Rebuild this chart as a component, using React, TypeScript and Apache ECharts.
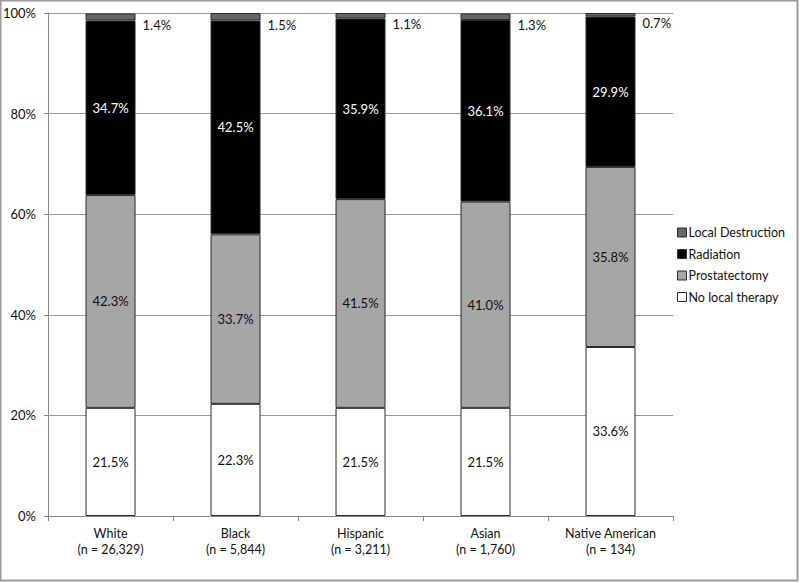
import React, { useEffect, useRef } from "react";
import * as echarts from "echarts";

const categories = [
  "White\n(n = 26,329)",
  "Black\n(n = 5,844)",
  "Hispanic\n(n = 3,211)",
  "Asian\n(n = 1,760)",
  "Native American\n(n = 134)",
];
const noLocalTherapy = [21.5, 22.3, 21.5, 21.5, 33.6];
const prostatectomy = [42.3, 33.7, 41.5, 41.0, 35.8];
const radiation = [34.7, 42.5, 35.9, 36.1, 29.9];
const localDestruction = [1.4, 1.5, 1.1, 1.3, 0.7];
const yTicks = [0, 20, 40, 60, 80, 100];

const FONT = "Lato";

export default function App() {
  const ref = useRef<HTMLDivElement>(null);
  useEffect(() => {
    if (!ref.current) return;
    const chart = echarts.init(ref.current, undefined, { renderer: "svg" });
    const fmt = (p: any) => Number(p.value).toFixed(1) + "%";
    const baseSeries = (name: string, data: number[], color: string, textColor: string) => ({
      name,
      type: "bar",
      stack: "total",
      data,
      barWidth: "40%",
      itemStyle: { color, borderColor: "#2a2a2a", borderWidth: 1 },
      label: {
        show: true,
        position: "inside",
        formatter: fmt,
        color: textColor,
        fontFamily: FONT,
        fontSize: 13,
      },
    });
    chart.setOption({
      animation: false,
      backgroundColor: "#ffffff",
      textStyle: { fontFamily: FONT },
      grid: { left: 46, right: 127, top: 13, bottom: 67 },
      legend: {
        orient: "vertical",
        left: 672,
        top: 221,
        icon: "rect",
        itemWidth: 9,
        itemHeight: 9,
        itemGap: 8.5,
        data: ["Local Destruction", "Radiation", "Prostatectomy", "No local therapy"],
        textStyle: { fontFamily: FONT, fontSize: 12.5, color: "#111", padding: [0, 0, 0, -3] },
        itemStyle: { borderColor: "#2a2a2a", borderWidth: 1 },
        selectedMode: false,
      },
      xAxis: {
        type: "category",
        data: categories,
        axisLine: { lineStyle: { color: "#888" } },
        axisTick: { show: true, length: 5, lineStyle: { color: "#888" } },
        axisLabel: { color: "#111", fontFamily: FONT, fontSize: 12.5, lineHeight: 16, margin: 9 },
      },
      yAxis: {
        type: "value",
        min: 0,
        max: 100,
        interval: 20,
        axisLine: { show: true, lineStyle: { color: "#888" } },
        axisTick: { show: true, length: 4, lineStyle: { color: "#888" } },
        splitLine: { lineStyle: { color: "#999" } },
        axisLabel: {
          color: "#111",
          fontFamily: FONT,
          fontSize: 13,
          margin: 12,
          formatter: (v: number) => (yTicks.includes(v) ? v + "%" : ""),
        },
      },
      series: [
        baseSeries("No local therapy", noLocalTherapy, "#ffffff", "#111"),
        baseSeries("Prostatectomy", prostatectomy, "#a6a6a6", "#111"),
        baseSeries("Radiation", radiation, "#000000", "#ffffff"),
        {
          ...baseSeries("Local Destruction", localDestruction, "#666666", "#111"),
          label: {
            show: true,
            position: "right",
            offset: [2, 8],
            formatter: fmt,
            color: "#111",
            fontFamily: FONT,
            fontSize: 13,
          },
        },
      ],
      graphic: [
        {
          type: "rect",
          shape: { x: 0.5, y: 0.5, width: 797, height: 580 },
          style: { fill: "none", stroke: "#9a9a9a", lineWidth: 2 },
          silent: true,
        },
      ],
    });
    return () => chart.dispose();
  }, []);
  return (
    <div
      ref={ref}
      style={{ position: "fixed", left: 0, top: 0, width: 800, height: 583 }}
    />
  );
}
